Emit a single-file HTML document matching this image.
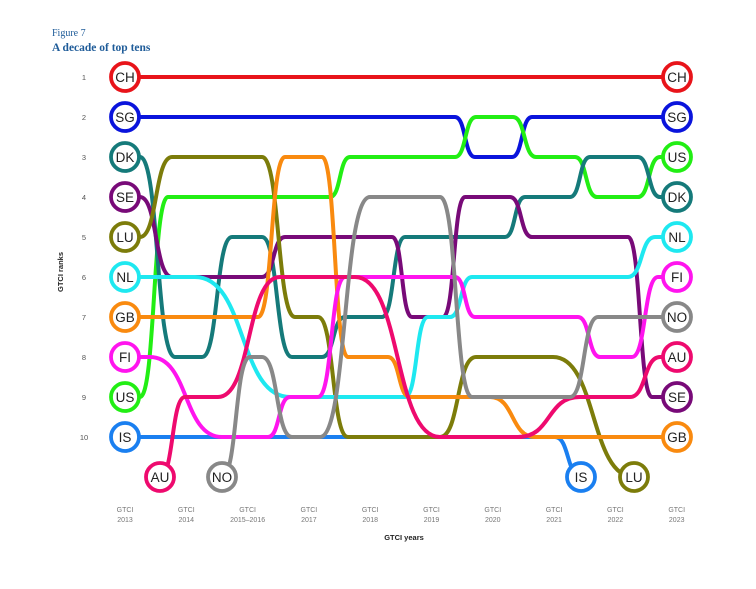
<!DOCTYPE html>
<html><head><meta charset="utf-8"><style>
body{margin:0;background:#fff;width:756px;height:589px;overflow:hidden}
svg{display:block}
</style></head><body>
<svg id="s" width="756" height="589" xmlns="http://www.w3.org/2000/svg" font-family="Liberation Sans, sans-serif">
<text x="52" y="36" font-family="Liberation Serif, serif" font-size="10" fill="#1f5c99">Figure 7</text>
<text x="52" y="51" font-family="Liberation Serif, serif" font-size="11.5" font-weight="bold" fill="#1f5c99">A decade of top tens</text>
<text transform="translate(63,272) rotate(-90)" text-anchor="middle" font-size="7.5" font-weight="bold" fill="#222">GTCI ranks</text>
<text x="404" y="540" text-anchor="middle" font-size="7.5" font-weight="bold" fill="#222">GTCI years</text>
<g id="ranks" font-size="7.5" fill="#555" text-anchor="middle"></g>
<g id="years" font-size="7" fill="#777" text-anchor="middle"></g>
<g id="lines" fill="none" stroke-width="4" stroke-linecap="round"></g>
<g id="circ"></g>
</svg>
<script>
const NS="http://www.w3.org/2000/svg";
const Y=r=>37+40*r;
function el(t,a,p,txt){const e=document.createElementNS(NS,t);for(const k in a)e.setAttribute(k,a[k]);if(txt!==undefined)e.textContent=txt;p.appendChild(e);return e;}
const rg=document.getElementById('ranks');
for(let r=1;r<=10;r++)el('text',{x:84,y:Y(r)+3},rg,String(r));
const yg=document.getElementById('years');
const yrs=['2013','2014','2015–2016','2017','2018','2019','2020','2021','2022','2023'];
yrs.forEach((t,i)=>{const x=125+61.3*i;el('text',{x:x,y:512},yg,'GTCI');el('text',{x:x,y:522},yg,t);});
const S=[
['CH','#e8141a',[[125,1],[677,1]],1,1],
['SG','#0a14dc',[[125,2],[455,2],[475,3],[512,3],[532,2],[677,2]],2,2],
['IS','#1a7ff0',[[125,10],[555,10],[581,11]],10,11,581],
['US','#22ee14',[[125,9],[140,9],[168,4],[330,4],[350,3],[455,3],[476,2],[513,2],[536,3],[575,3],[597,4],[638,4],[660,3],[677,3]],9,3],
['DK','#157a7a',[[125,3],[140,3],[175,8],[202,8],[232,5],[262,5],[292,8],[322,8],[345,7],[382,7],[405,5],[505,5],[525,4],[570,4],[590,3],[638,3],[660,4],[677,4]],3,4],
['SE','#780a78',[[125,4],[140,4],[172,6],[262,6],[285,5],[392,5],[412,7],[443,7],[465,4],[510,4],[532,5],[628,5],[652,9],[677,9]],4,9],
['LU','#7c7c0a',[[125,5],[140,5],[172,3],[262,3],[295,7],[318,7],[348,10],[440,10],[476,8],[553,8],[634,11]],5,11,634],
['NL','#1ee8f0',[[125,6],[195,6],[290,9],[405,9],[428,7],[450,7],[472,6],[628,6],[655,5],[677,5]],6,5],
['GB','#f98a0f',[[125,7],[258,7],[285,3],[322,3],[348,8],[388,8],[410,9],[490,9],[535,10],[677,10]],7,10],
['FI','#ff14ee',[[125,8],[150,8],[222,10],[268,10],[290,9],[318,9],[345,6],[455,6],[475,7],[578,7],[600,8],[632,8],[658,6],[677,6]],8,6],
['AU','#ee0a6e',[[160,11],[185,9],[218,9],[280,6],[355,6],[440,10],[518,10],[580,9],[630,9],[660,8],[677,8]],11,8,160],
['NO','#888888',[[222,11],[250,8],[262,8],[292,10],[320,10],[370,4],[440,4],[472,9],[570,9],[598,7],[677,7]],11,7,222],
];
const lg=document.getElementById('lines'),cg=document.getElementById('circ');
S.forEach(([n,c,pts])=>{
 let d='M'+pts[0][0]+' '+Y(pts[0][1]);
 for(let i=1;i<pts.length;i++){const [x0,r0]=pts[i-1],[x1,r1]=pts[i];
  if(r0===r1)d+=' L'+x1+' '+Y(r1);
  else{const dx=(x1-x0)*0.55;d+=` C${x0+dx} ${Y(r0)} ${x1-dx} ${Y(r1)} ${x1} ${Y(r1)}`;}}
 el('path',{d:d,stroke:c},lg);
});
function circ(x,y,c,t){el('circle',{cx:x,cy:y,r:14,fill:'#fff',stroke:c,'stroke-width':3.8},cg);
 el('text',{x:x,y:y+5,'text-anchor':'middle','font-size':13.5,fill:'#222'},cg,t);}
S.forEach(([n,c,pts,r0,r1,bx])=>{
 circ(r0===11?bx:125,Y(r0),c,n);
 circ(r1===11?bx:677,Y(r1),c,n);
});
</script>
</body></html>
